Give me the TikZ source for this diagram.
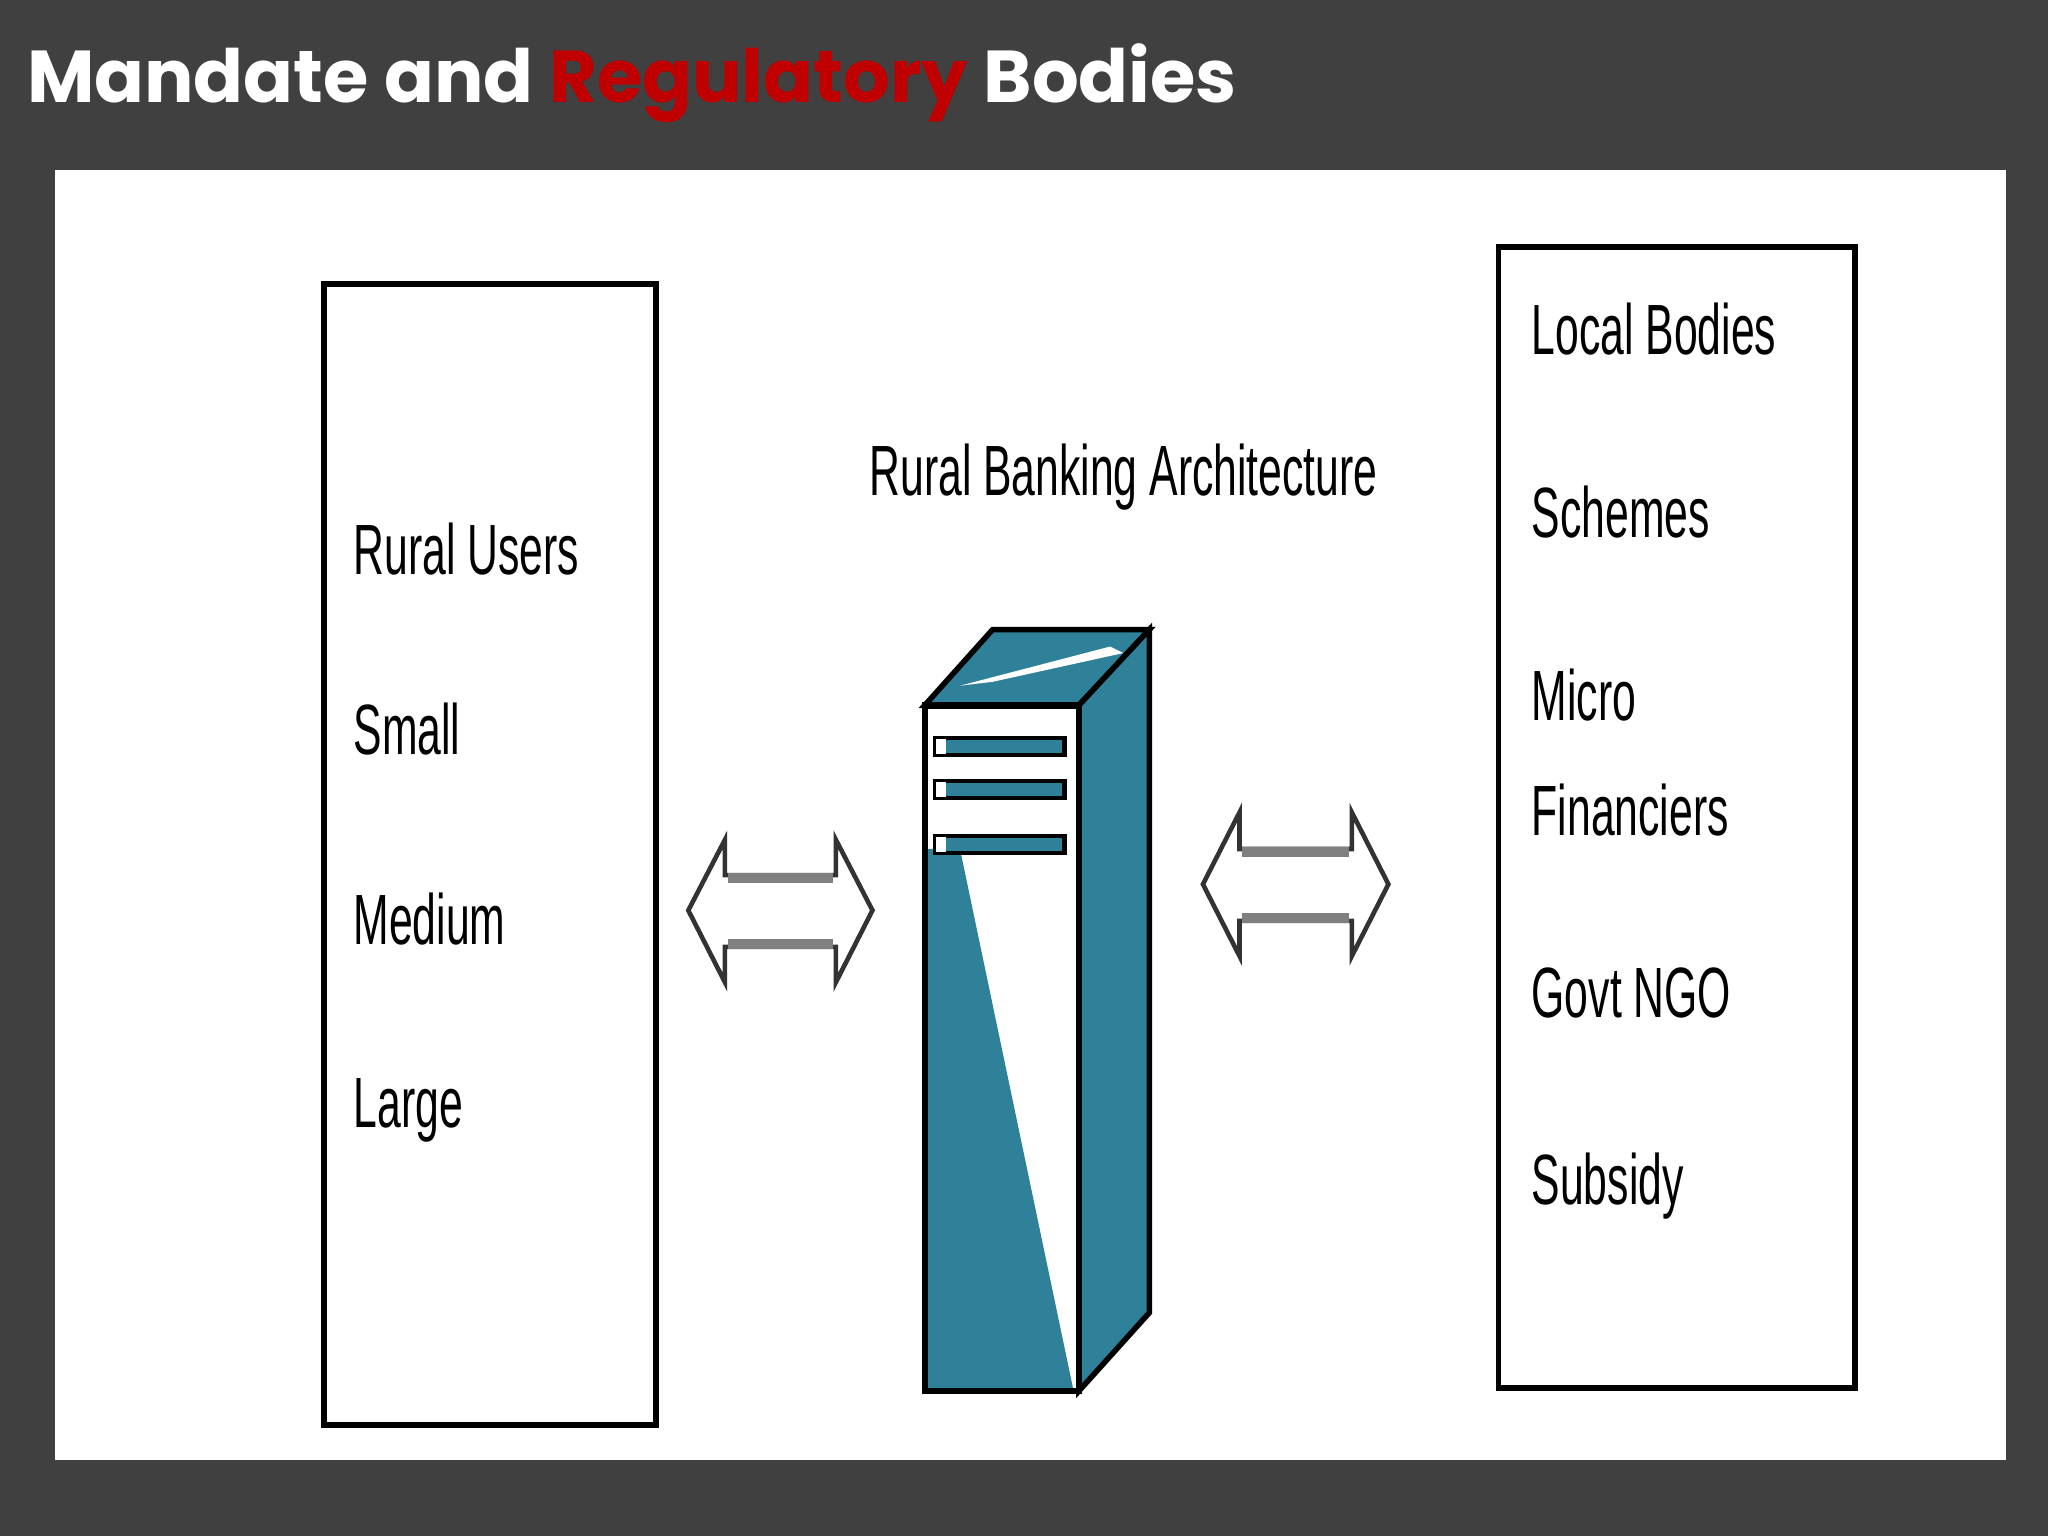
\documentclass[tikz,border=0pt]{standalone}
\usepackage{fontspec}
\setmainfont{Liberation Sans}
\newfontfamily\titlefont{Poppins}
\newfontfamily\narrowfont[FakeStretch=0.6]{Liberation Sans}
\definecolor{bg}{HTML}{404040}
\definecolor{teal}{HTML}{2E8199}
\definecolor{tred}{HTML}{C00000}
\begin{document}
\begin{tikzpicture}[x=0.01cm,y=-0.01cm,
  lbl/.style={anchor=west,inner sep=0pt,font=\narrowfont\fontsize{15.5pt}{18pt}\selectfont},
  colbox/.style={draw=black,line width=1.3pt,fill=white},
  arr/.style={draw=black!80,line width=1pt,fill=white,line join=miter},
  shaft/.style={draw=gray,line width=2.2pt}]
\fill[bg] (0,0) rectangle (1568,1176);
\useasboundingbox (0,0) rectangle (1568,1176);
\node[anchor=west,inner sep=0pt,text=white,font=\titlefont\bfseries\fontsize{16pt}{19pt}\selectfont] (title) at (20,64) {Mandate and \textcolor{tred}{Regulatory} Bodies};
\fill[white] (42,130) rectangle (1536,1118);
\node[colbox,minimum width=2.54cm,minimum height=8.73cm,anchor=north west,inner sep=0pt] (left) at (246,215) {};
\node[colbox,minimum width=2.73cm,minimum height=8.73cm,anchor=north west,inner sep=0pt] (right) at (1145,187) {};
\node[lbl] (ru) at (270,420) {Rural Users};
\node[lbl] (sm) at (270,558) {Small};
\node[lbl] (me) at (270,704) {Medium};
\node[lbl] (la) at (270,850) {Large};
\node[lbl] (lb) at (1172,252) {Local Bodies};
\node[lbl] (sc) at (1172,392) {Schemes};
\node[lbl] (mi) at (1172,532) {Micro};
\node[lbl] (fi) at (1172,620) {Financiers};
\node[lbl] (gn) at (1172,760) {Govt NGO};
\node[lbl] (su) at (1172,908) {Subsidy};
\node[lbl] (rba) at (665,365) {Rural Banking Architecture};
% server
\filldraw[fill=teal,draw=black,line width=1.2pt] (708,540)--(760,482)--(880,482)--(826,540)--cycle;
\fill[white] (735,525)--(850,495)--(860,500)--(760,522)--cycle;
\filldraw[fill=teal,draw=black,line width=1.2pt] (826,540)--(880,482)--(880,1005)--(826,1065)--cycle;
\fill[white] (708,540) rectangle (826,1065);
\fill[teal] (708,650)--(735,650)--(822,1065)--(708,1065)--cycle;
\draw[black,line width=1.4pt] (708,540) rectangle (826,1065);
\foreach \y in {565,598,640}{
  \filldraw[fill=teal,draw=black,line width=1pt] (716,\y) rectangle (815,\y+13);
  \fill[white] (717,\y+1) rectangle (724,\y+12);}
% arrows
\filldraw[arr] (527,697)--(555,643)--(555,670)--(640,670)--(640,643)--(668,697)--(640,752)--(640,725)--(555,725)--(555,752)--cycle;
\draw[shaft] (557,672)--(638,672) (557,723)--(638,723);
\filldraw[arr] (921,677)--(949,622)--(949,650)--(1035,650)--(1035,622)--(1063,677)--(1035,732)--(1035,705)--(949,705)--(949,732)--cycle;
\draw[shaft] (951,652)--(1033,652) (951,703)--(1033,703);
\end{tikzpicture}
\end{document}
